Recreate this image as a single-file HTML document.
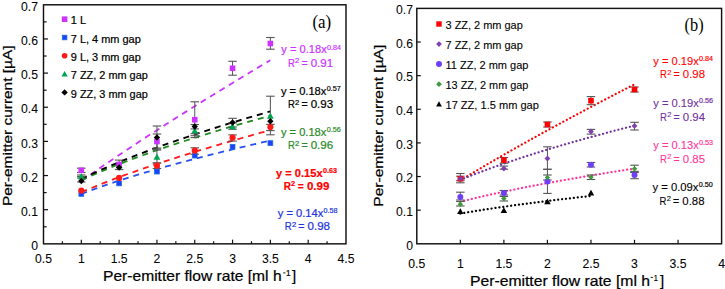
<!DOCTYPE html><html><head><meta charset="utf-8"><style>html,body{margin:0;padding:0;background:#fff;}svg{display:block}</style></head><body>
<svg width="725" height="289" viewBox="0 0 725 289">
<rect width="725" height="289" fill="#fff"/>
<rect x="43.5" y="4.8" width="302.50" height="239.05" fill="none" stroke="#111" stroke-width="1.45"/>
<line x1="43.5" y1="226.77" x2="46.6" y2="226.77" stroke="#111" stroke-width="1.2"/>
<line x1="43.5" y1="209.70" x2="48.0" y2="209.70" stroke="#111" stroke-width="1.2"/>
<line x1="43.5" y1="192.62" x2="46.6" y2="192.62" stroke="#111" stroke-width="1.2"/>
<line x1="43.5" y1="175.55" x2="48.0" y2="175.55" stroke="#111" stroke-width="1.2"/>
<line x1="43.5" y1="158.47" x2="46.6" y2="158.47" stroke="#111" stroke-width="1.2"/>
<line x1="43.5" y1="141.40" x2="48.0" y2="141.40" stroke="#111" stroke-width="1.2"/>
<line x1="43.5" y1="124.32" x2="46.6" y2="124.32" stroke="#111" stroke-width="1.2"/>
<line x1="43.5" y1="107.25" x2="48.0" y2="107.25" stroke="#111" stroke-width="1.2"/>
<line x1="43.5" y1="90.18" x2="46.6" y2="90.18" stroke="#111" stroke-width="1.2"/>
<line x1="43.5" y1="73.10" x2="48.0" y2="73.10" stroke="#111" stroke-width="1.2"/>
<line x1="43.5" y1="56.03" x2="46.6" y2="56.03" stroke="#111" stroke-width="1.2"/>
<line x1="43.5" y1="38.95" x2="48.0" y2="38.95" stroke="#111" stroke-width="1.2"/>
<line x1="43.5" y1="21.88" x2="46.6" y2="21.88" stroke="#111" stroke-width="1.2"/>
<line x1="62.41" y1="243.85" x2="62.41" y2="241.25" stroke="#111" stroke-width="1.2"/>
<line x1="81.31" y1="243.85" x2="81.31" y2="239.65" stroke="#111" stroke-width="1.2"/>
<line x1="100.22" y1="243.85" x2="100.22" y2="241.25" stroke="#111" stroke-width="1.2"/>
<line x1="119.12" y1="243.85" x2="119.12" y2="239.65" stroke="#111" stroke-width="1.2"/>
<line x1="138.03" y1="243.85" x2="138.03" y2="241.25" stroke="#111" stroke-width="1.2"/>
<line x1="156.94" y1="243.85" x2="156.94" y2="239.65" stroke="#111" stroke-width="1.2"/>
<line x1="175.84" y1="243.85" x2="175.84" y2="241.25" stroke="#111" stroke-width="1.2"/>
<line x1="194.75" y1="243.85" x2="194.75" y2="239.65" stroke="#111" stroke-width="1.2"/>
<line x1="213.66" y1="243.85" x2="213.66" y2="241.25" stroke="#111" stroke-width="1.2"/>
<line x1="232.56" y1="243.85" x2="232.56" y2="239.65" stroke="#111" stroke-width="1.2"/>
<line x1="251.47" y1="243.85" x2="251.47" y2="241.25" stroke="#111" stroke-width="1.2"/>
<line x1="270.38" y1="243.85" x2="270.38" y2="239.65" stroke="#111" stroke-width="1.2"/>
<line x1="289.28" y1="243.85" x2="289.28" y2="241.25" stroke="#111" stroke-width="1.2"/>
<line x1="308.19" y1="243.85" x2="308.19" y2="239.65" stroke="#111" stroke-width="1.2"/>
<line x1="327.09" y1="243.85" x2="327.09" y2="241.25" stroke="#111" stroke-width="1.2"/>
<text x="38.00" y="249.95" font-size="12.2" fill="#000" stroke="#000" stroke-width="0.05" text-anchor="end" font-weight="normal" font-family='"Liberation Sans", sans-serif'>0</text>
<text x="38.00" y="215.80" font-size="12.2" fill="#000" stroke="#000" stroke-width="0.05" text-anchor="end" font-weight="normal" font-family='"Liberation Sans", sans-serif'>0.1</text>
<text x="38.00" y="181.65" font-size="12.2" fill="#000" stroke="#000" stroke-width="0.05" text-anchor="end" font-weight="normal" font-family='"Liberation Sans", sans-serif'>0.2</text>
<text x="38.00" y="147.50" font-size="12.2" fill="#000" stroke="#000" stroke-width="0.05" text-anchor="end" font-weight="normal" font-family='"Liberation Sans", sans-serif'>0.3</text>
<text x="38.00" y="113.35" font-size="12.2" fill="#000" stroke="#000" stroke-width="0.05" text-anchor="end" font-weight="normal" font-family='"Liberation Sans", sans-serif'>0.4</text>
<text x="38.00" y="79.20" font-size="12.2" fill="#000" stroke="#000" stroke-width="0.05" text-anchor="end" font-weight="normal" font-family='"Liberation Sans", sans-serif'>0.5</text>
<text x="38.00" y="45.05" font-size="12.2" fill="#000" stroke="#000" stroke-width="0.05" text-anchor="end" font-weight="normal" font-family='"Liberation Sans", sans-serif'>0.6</text>
<text x="38.00" y="10.90" font-size="12.2" fill="#000" stroke="#000" stroke-width="0.05" text-anchor="end" font-weight="normal" font-family='"Liberation Sans", sans-serif'>0.7</text>
<text x="43.50" y="263.00" font-size="12.2" fill="#000" stroke="#000" stroke-width="0.05" text-anchor="middle" font-weight="normal" font-family='"Liberation Sans", sans-serif'>0.5</text>
<text x="81.31" y="263.00" font-size="12.2" fill="#000" stroke="#000" stroke-width="0.05" text-anchor="middle" font-weight="normal" font-family='"Liberation Sans", sans-serif'>1</text>
<text x="119.12" y="263.00" font-size="12.2" fill="#000" stroke="#000" stroke-width="0.05" text-anchor="middle" font-weight="normal" font-family='"Liberation Sans", sans-serif'>1.5</text>
<text x="156.94" y="263.00" font-size="12.2" fill="#000" stroke="#000" stroke-width="0.05" text-anchor="middle" font-weight="normal" font-family='"Liberation Sans", sans-serif'>2</text>
<text x="194.75" y="263.00" font-size="12.2" fill="#000" stroke="#000" stroke-width="0.05" text-anchor="middle" font-weight="normal" font-family='"Liberation Sans", sans-serif'>2.5</text>
<text x="232.56" y="263.00" font-size="12.2" fill="#000" stroke="#000" stroke-width="0.05" text-anchor="middle" font-weight="normal" font-family='"Liberation Sans", sans-serif'>3</text>
<text x="270.38" y="263.00" font-size="12.2" fill="#000" stroke="#000" stroke-width="0.05" text-anchor="middle" font-weight="normal" font-family='"Liberation Sans", sans-serif'>3.5</text>
<text x="308.19" y="263.00" font-size="12.2" fill="#000" stroke="#000" stroke-width="0.05" text-anchor="middle" font-weight="normal" font-family='"Liberation Sans", sans-serif'>4</text>
<text x="346.00" y="263.00" font-size="12.2" fill="#000" stroke="#000" stroke-width="0.05" text-anchor="middle" font-weight="normal" font-family='"Liberation Sans", sans-serif'>4.5</text>
<text transform="translate(12.1,125.8) rotate(-90)" x="0" y="0" font-size="13.2" text-anchor="middle" stroke="#000" stroke-width="0.22" font-family='"Liberation Sans", sans-serif' textLength="160.6" lengthAdjust="spacingAndGlyphs">Per-emitter current [µA]</text>
<text x="103.00" y="280.50" font-size="15" fill="#000" stroke="#000" stroke-width="0.22" text-anchor="start" font-weight="normal" font-family='"Liberation Sans", sans-serif' textLength="178.60" lengthAdjust="spacingAndGlyphs">Per-emitter flow rate [ml h</text>
<line x1="283.20" y1="272.90" x2="285.40" y2="272.90" stroke="#000" stroke-width="0.9"/>
<text x="286.00" y="275.80" font-size="8.2" fill="#000" stroke="#000" stroke-width="0.22" text-anchor="start" font-weight="normal" font-family='"Liberation Sans", sans-serif'>1</text>
<text x="292.00" y="280.50" font-size="15" fill="#000" stroke="#000" stroke-width="0.22" text-anchor="start" font-weight="normal" font-family='"Liberation Sans", sans-serif' textLength="4.20" lengthAdjust="spacingAndGlyphs">]</text>
<text x="312.40" y="28.00" font-size="19.5" fill="#000" stroke="#000" stroke-width="0" text-anchor="start" font-weight="normal" font-family='"Liberation Serif", serif' textLength="18.70" lengthAdjust="spacingAndGlyphs">(a)</text>
<polyline points="81.31,181.08 86.04,177.73 90.77,174.42 95.49,171.12 100.22,167.85 104.95,164.61 109.67,161.39 114.40,158.18 119.12,155.00 123.85,151.84 128.58,148.69 133.30,145.57 138.03,142.45 142.76,139.36 147.48,136.28 152.21,133.21 156.94,130.16 161.66,127.12 166.39,124.10 171.12,121.09 175.84,118.09 180.57,115.10 185.30,112.12 190.02,109.16 194.75,106.20 199.48,103.26 204.20,100.32 208.93,97.40 213.66,94.49 218.38,91.58 223.11,88.69 227.84,85.80 232.56,82.92 237.29,80.05 242.02,77.19 246.74,74.34 251.47,71.50 256.20,68.66 260.92,65.83 265.65,63.01 270.38,60.20" fill="none" stroke="#CC33FF" stroke-width="1.8" stroke-dasharray="6,5" stroke-linecap="butt"/>
<polyline points="81.31,193.89 86.04,192.10 90.77,190.36 95.49,188.65 100.22,186.99 104.95,185.35 109.67,183.75 114.40,182.18 119.12,180.64 123.85,179.13 128.58,177.64 133.30,176.17 138.03,174.73 142.76,173.31 147.48,171.91 152.21,170.53 156.94,169.17 161.66,167.82 166.39,166.49 171.12,165.18 175.84,163.88 180.57,162.60 185.30,161.34 190.02,160.08 194.75,158.85 199.48,157.62 204.20,156.41 208.93,155.20 213.66,154.01 218.38,152.84 223.11,151.67 227.84,150.51 232.56,149.36 237.29,148.23 242.02,147.10 246.74,145.98 251.47,144.87 256.20,143.78 260.92,142.68 265.65,141.60 270.38,140.53" fill="none" stroke="#2850F0" stroke-width="1.8" stroke-dasharray="6,5" stroke-linecap="butt"/>
<polyline points="81.31,192.22 86.04,190.20 90.77,188.24 95.49,186.31 100.22,184.42 104.95,182.57 109.67,180.74 114.40,178.95 119.12,177.19 123.85,175.45 128.58,173.74 133.30,172.05 138.03,170.39 142.76,168.75 147.48,167.13 152.21,165.52 156.94,163.94 161.66,162.38 166.39,160.83 171.12,159.30 175.84,157.79 180.57,156.29 185.30,154.80 190.02,153.34 194.75,151.88 199.48,150.44 204.20,149.01 208.93,147.59 213.66,146.19 218.38,144.80 223.11,143.42 227.84,142.05 232.56,140.69 237.29,139.34 242.02,138.00 246.74,136.67 251.47,135.35 256.20,134.04 260.92,132.74 265.65,131.45 270.38,130.16" fill="none" stroke="#FF1A1A" stroke-width="1.8" stroke-dasharray="6,5" stroke-linecap="butt"/>
<polyline points="81.31,180.33 86.04,178.14 90.77,176.00 95.49,173.91 100.22,171.88 104.95,169.88 109.67,167.93 114.40,166.02 119.12,164.14 123.85,162.30 128.58,160.49 133.30,158.70 138.03,156.95 142.76,155.23 147.48,153.53 152.21,151.86 156.94,150.21 161.66,148.58 166.39,146.97 171.12,145.39 175.84,143.82 180.57,142.27 185.30,140.75 190.02,139.24 194.75,137.74 199.48,136.26 204.20,134.80 208.93,133.36 213.66,131.92 218.38,130.51 223.11,129.10 227.84,127.71 232.56,126.34 237.29,124.97 242.02,123.62 246.74,122.28 251.47,120.95 256.20,119.63 260.92,118.32 265.65,117.03 270.38,115.74" fill="none" stroke="#1E8C1E" stroke-width="1.8" stroke-dasharray="6,5" stroke-linecap="butt"/>
<polyline points="81.31,178.96 86.04,176.68 90.77,174.46 95.49,172.29 100.22,170.16 104.95,168.09 109.67,166.05 114.40,164.05 119.12,162.09 123.85,160.17 128.58,158.28 133.30,156.42 138.03,154.59 142.76,152.78 147.48,151.01 152.21,149.25 156.94,147.53 161.66,145.82 166.39,144.14 171.12,142.48 175.84,140.84 180.57,139.22 185.30,137.61 190.02,136.03 194.75,134.46 199.48,132.91 204.20,131.38 208.93,129.86 213.66,128.35 218.38,126.87 223.11,125.39 227.84,123.93 232.56,122.48 237.29,121.05 242.02,119.63 246.74,118.21 251.47,116.82 256.20,115.43 260.92,114.05 265.65,112.69 270.38,111.34" fill="none" stroke="#000" stroke-width="1.9" stroke-dasharray="6,5" stroke-linecap="butt"/>
<line x1="81.31" y1="168.20" x2="81.31" y2="172.50" stroke="#555" stroke-width="1"/>
<line x1="77.06" y1="168.20" x2="85.56" y2="168.20" stroke="#555" stroke-width="1.1"/>
<line x1="77.06" y1="172.50" x2="85.56" y2="172.50" stroke="#555" stroke-width="1.1"/>
<line x1="81.31" y1="175.00" x2="81.31" y2="178.00" stroke="#555" stroke-width="1"/>
<line x1="77.06" y1="175.00" x2="85.56" y2="175.00" stroke="#555" stroke-width="1.1"/>
<line x1="77.06" y1="178.00" x2="85.56" y2="178.00" stroke="#555" stroke-width="1.1"/>
<line x1="81.31" y1="176.50" x2="81.31" y2="182.00" stroke="#555" stroke-width="1"/>
<line x1="77.06" y1="176.50" x2="85.56" y2="176.50" stroke="#555" stroke-width="1.1"/>
<line x1="77.06" y1="182.00" x2="85.56" y2="182.00" stroke="#555" stroke-width="1.1"/>
<line x1="119.12" y1="160.10" x2="119.12" y2="169.60" stroke="#555" stroke-width="1"/>
<line x1="114.88" y1="160.10" x2="123.38" y2="160.10" stroke="#555" stroke-width="1.1"/>
<line x1="114.88" y1="169.60" x2="123.38" y2="169.60" stroke="#555" stroke-width="1.1"/>
<line x1="156.94" y1="134.00" x2="156.94" y2="149.00" stroke="#555" stroke-width="1"/>
<line x1="152.69" y1="134.00" x2="161.19" y2="134.00" stroke="#555" stroke-width="1.1"/>
<line x1="152.69" y1="149.00" x2="161.19" y2="149.00" stroke="#555" stroke-width="1.1"/>
<line x1="156.94" y1="163.00" x2="156.94" y2="168.50" stroke="#555" stroke-width="1"/>
<line x1="152.69" y1="163.00" x2="161.19" y2="163.00" stroke="#555" stroke-width="1.1"/>
<line x1="152.69" y1="168.50" x2="161.19" y2="168.50" stroke="#555" stroke-width="1.1"/>
<line x1="156.94" y1="150.00" x2="156.94" y2="163.00" stroke="#555" stroke-width="1"/>
<line x1="152.69" y1="150.00" x2="161.19" y2="150.00" stroke="#555" stroke-width="1.1"/>
<line x1="152.69" y1="163.00" x2="161.19" y2="163.00" stroke="#555" stroke-width="1.1"/>
<line x1="156.94" y1="126.00" x2="156.94" y2="148.00" stroke="#555" stroke-width="1"/>
<line x1="152.69" y1="126.00" x2="161.19" y2="126.00" stroke="#555" stroke-width="1.1"/>
<line x1="152.69" y1="148.00" x2="161.19" y2="148.00" stroke="#555" stroke-width="1.1"/>
<line x1="194.75" y1="101.80" x2="194.75" y2="137.60" stroke="#555" stroke-width="1"/>
<line x1="190.50" y1="101.80" x2="199.00" y2="101.80" stroke="#555" stroke-width="1.1"/>
<line x1="190.50" y1="137.60" x2="199.00" y2="137.60" stroke="#555" stroke-width="1.1"/>
<line x1="194.75" y1="147.80" x2="194.75" y2="154.30" stroke="#555" stroke-width="1"/>
<line x1="190.50" y1="147.80" x2="199.00" y2="147.80" stroke="#555" stroke-width="1.1"/>
<line x1="190.50" y1="154.30" x2="199.00" y2="154.30" stroke="#555" stroke-width="1.1"/>
<line x1="194.75" y1="128.90" x2="194.75" y2="135.70" stroke="#555" stroke-width="1"/>
<line x1="190.50" y1="128.90" x2="199.00" y2="128.90" stroke="#555" stroke-width="1.1"/>
<line x1="190.50" y1="135.70" x2="199.00" y2="135.70" stroke="#555" stroke-width="1.1"/>
<line x1="194.75" y1="124.50" x2="194.75" y2="133.70" stroke="#555" stroke-width="1"/>
<line x1="190.50" y1="124.50" x2="199.00" y2="124.50" stroke="#555" stroke-width="1.1"/>
<line x1="190.50" y1="133.70" x2="199.00" y2="133.70" stroke="#555" stroke-width="1.1"/>
<line x1="232.56" y1="61.30" x2="232.56" y2="75.20" stroke="#555" stroke-width="1"/>
<line x1="228.31" y1="61.30" x2="236.81" y2="61.30" stroke="#555" stroke-width="1.1"/>
<line x1="228.31" y1="75.20" x2="236.81" y2="75.20" stroke="#555" stroke-width="1.1"/>
<line x1="232.56" y1="134.90" x2="232.56" y2="141.10" stroke="#555" stroke-width="1"/>
<line x1="228.31" y1="134.90" x2="236.81" y2="134.90" stroke="#555" stroke-width="1.1"/>
<line x1="228.31" y1="141.10" x2="236.81" y2="141.10" stroke="#555" stroke-width="1.1"/>
<line x1="232.56" y1="123.00" x2="232.56" y2="129.30" stroke="#555" stroke-width="1"/>
<line x1="228.31" y1="123.00" x2="236.81" y2="123.00" stroke="#555" stroke-width="1.1"/>
<line x1="228.31" y1="129.30" x2="236.81" y2="129.30" stroke="#555" stroke-width="1.1"/>
<line x1="232.56" y1="118.30" x2="232.56" y2="127.00" stroke="#555" stroke-width="1"/>
<line x1="228.31" y1="118.30" x2="236.81" y2="118.30" stroke="#555" stroke-width="1.1"/>
<line x1="228.31" y1="127.00" x2="236.81" y2="127.00" stroke="#555" stroke-width="1.1"/>
<line x1="270.38" y1="37.50" x2="270.38" y2="49.20" stroke="#555" stroke-width="1"/>
<line x1="266.12" y1="37.50" x2="274.62" y2="37.50" stroke="#555" stroke-width="1.1"/>
<line x1="266.12" y1="49.20" x2="274.62" y2="49.20" stroke="#555" stroke-width="1.1"/>
<line x1="270.38" y1="124.40" x2="270.38" y2="130.60" stroke="#555" stroke-width="1"/>
<line x1="266.12" y1="124.40" x2="274.62" y2="124.40" stroke="#555" stroke-width="1.1"/>
<line x1="266.12" y1="130.60" x2="274.62" y2="130.60" stroke="#555" stroke-width="1.1"/>
<line x1="270.38" y1="96.20" x2="270.38" y2="134.80" stroke="#555" stroke-width="1"/>
<line x1="266.12" y1="96.20" x2="274.62" y2="96.20" stroke="#555" stroke-width="1.1"/>
<line x1="266.12" y1="134.80" x2="274.62" y2="134.80" stroke="#555" stroke-width="1.1"/>
<rect x="78.91" y="191.50" width="4.8" height="4.8" fill="#1F3FFF" stroke="#1F6FDF" stroke-width="0.8"/>
<circle cx="81.31" cy="190.60" r="3.1" fill="#FF1A1A"/>
<polygon points="81.31,173.07 84.71,179.25 77.91,179.25" fill="#00A651"/>
<rect x="78.51" y="167.50" width="5.6" height="5.6" fill="#CC33FF"/>
<polygon points="81.31,177.80 84.51,181.00 81.31,184.20 78.11,181.00" fill="#000"/>
<rect x="116.72" y="181.00" width="4.8" height="4.8" fill="#1F3FFF" stroke="#1F6FDF" stroke-width="0.8"/>
<circle cx="119.12" cy="177.90" r="3.1" fill="#FF1A1A"/>
<polygon points="119.12,161.97 122.52,168.15 115.73,168.15" fill="#00A651"/>
<rect x="116.33" y="161.70" width="5.6" height="5.6" fill="#CC33FF"/>
<polygon points="119.12,164.30 122.33,167.50 119.12,170.70 115.92,167.50" fill="#000"/>
<rect x="154.54" y="169.20" width="4.8" height="4.8" fill="#1F3FFF" stroke="#1F6FDF" stroke-width="0.8"/>
<circle cx="156.94" cy="165.70" r="3.1" fill="#FF1A1A"/>
<polygon points="156.94,153.47 160.34,159.65 153.54,159.65" fill="#00A651"/>
<rect x="154.14" y="138.70" width="5.6" height="5.6" fill="#CC33FF"/>
<polygon points="156.94,134.20 160.14,137.40 156.94,140.60 153.74,137.40" fill="#000"/>
<rect x="192.35" y="153.20" width="4.8" height="4.8" fill="#1F3FFF" stroke="#1F6FDF" stroke-width="0.8"/>
<circle cx="194.75" cy="150.70" r="3.1" fill="#FF1A1A"/>
<polygon points="194.75,127.37 198.15,133.55 191.35,133.55" fill="#00A651"/>
<rect x="191.95" y="116.90" width="5.6" height="5.6" fill="#CC33FF"/>
<polygon points="194.75,123.30 197.95,126.50 194.75,129.70 191.55,126.50" fill="#000"/>
<rect x="230.16" y="144.40" width="4.8" height="4.8" fill="#1F3FFF" stroke="#1F6FDF" stroke-width="0.8"/>
<circle cx="232.56" cy="137.70" r="3.1" fill="#FF1A1A"/>
<polygon points="232.56,122.97 235.96,129.15 229.16,129.15" fill="#00A651"/>
<rect x="229.76" y="65.50" width="5.6" height="5.6" fill="#CC33FF"/>
<polygon points="232.56,119.30 235.76,122.50 232.56,125.70 229.36,122.50" fill="#000"/>
<rect x="267.98" y="140.70" width="4.8" height="4.8" fill="#1F3FFF" stroke="#1F6FDF" stroke-width="0.8"/>
<circle cx="270.38" cy="127.00" r="3.1" fill="#FF1A1A"/>
<polygon points="270.38,112.47 273.78,118.65 266.97,118.65" fill="#00A651"/>
<rect x="267.57" y="40.70" width="5.6" height="5.6" fill="#CC33FF"/>
<polygon points="270.38,118.10 273.57,121.30 270.38,124.50 267.18,121.30" fill="#000"/>
<rect x="61.80" y="16.40" width="5.6" height="5.6" fill="#CC33FF"/>
<text x="70.80" y="24.40" font-size="11" fill="#000" stroke="#000" stroke-width="0.22" text-anchor="start" font-weight="normal" font-family='"Liberation Sans", sans-serif'>1 L</text>
<rect x="62.30" y="35.20" width="4.6" height="4.6" fill="#1F3FFF" stroke="#1F6FDF" stroke-width="0.8"/>
<text x="70.80" y="42.70" font-size="11" fill="#000" stroke="#000" stroke-width="0.22" text-anchor="start" font-weight="normal" font-family='"Liberation Sans", sans-serif' textLength="70.00" lengthAdjust="spacingAndGlyphs">7 L, 4 mm gap</text>
<circle cx="64.60" cy="55.80" r="2.8" fill="#FF1A1A"/>
<text x="70.80" y="61.00" font-size="11" fill="#000" stroke="#000" stroke-width="0.22" text-anchor="start" font-weight="normal" font-family='"Liberation Sans", sans-serif' textLength="70.00" lengthAdjust="spacingAndGlyphs">9 L, 3 mm gap</text>
<polygon points="64.60,70.91 67.70,76.49 61.50,76.49" fill="#00A651"/>
<text x="70.80" y="79.30" font-size="11" fill="#000" stroke="#000" stroke-width="0.22" text-anchor="start" font-weight="normal" font-family='"Liberation Sans", sans-serif' textLength="77.00" lengthAdjust="spacingAndGlyphs">7 ZZ, 2 mm gap</text>
<polygon points="64.60,89.20 67.80,92.40 64.60,95.60 61.40,92.40" fill="#000"/>
<text x="70.80" y="97.60" font-size="11" fill="#000" stroke="#000" stroke-width="0.22" text-anchor="start" font-weight="normal" font-family='"Liberation Sans", sans-serif' textLength="77.00" lengthAdjust="spacingAndGlyphs">9 ZZ, 3 mm gap</text>
<text x="281.30" y="53.40" font-size="11" fill="#CC33FF" stroke="#CC33FF" stroke-width="0.22" text-anchor="start" font-weight="normal" font-family='"Liberation Sans", sans-serif' textLength="45.50" lengthAdjust="spacingAndGlyphs">y = 0.18x</text>
<text x="327.10" y="49.50" font-size="7.2" fill="#CC33FF" stroke="#CC33FF" stroke-width="0.2" font-weight="normal" font-family='"Liberation Sans", sans-serif'>0.84</text>
<text x="287.90" y="67.00" font-size="11" fill="#CC33FF" stroke="#CC33FF" stroke-width="0.22" text-anchor="start" font-weight="normal" font-family='"Liberation Sans", sans-serif' textLength="6.90" lengthAdjust="spacingAndGlyphs">R</text>
<text x="295.10" y="63.40" font-size="7.6" fill="#CC33FF" stroke="#CC33FF" stroke-width="0.22" text-anchor="start" font-weight="normal" font-family='"Liberation Sans", sans-serif'>2</text>
<text x="301.50" y="67.00" font-size="11" fill="#CC33FF" stroke="#CC33FF" stroke-width="0.22" text-anchor="start" font-weight="normal" font-family='"Liberation Sans", sans-serif' textLength="6.20" lengthAdjust="spacingAndGlyphs">=</text>
<text x="310.70" y="67.00" font-size="11" fill="#CC33FF" stroke="#CC33FF" stroke-width="0.22" text-anchor="start" font-weight="normal" font-family='"Liberation Sans", sans-serif' textLength="22.50" lengthAdjust="spacingAndGlyphs">0.91</text>
<text x="280.90" y="94.80" font-size="11" fill="#000" stroke="#000" stroke-width="0.22" text-anchor="start" font-weight="normal" font-family='"Liberation Sans", sans-serif' textLength="45.50" lengthAdjust="spacingAndGlyphs">y = 0.18x</text>
<text x="326.70" y="90.90" font-size="7.2" fill="#000" stroke="#000" stroke-width="0.2" font-weight="normal" font-family='"Liberation Sans", sans-serif'>0.57</text>
<text x="287.90" y="108.40" font-size="11" fill="#000" stroke="#000" stroke-width="0.22" text-anchor="start" font-weight="normal" font-family='"Liberation Sans", sans-serif' textLength="6.90" lengthAdjust="spacingAndGlyphs">R</text>
<text x="295.10" y="104.80" font-size="7.6" fill="#000" stroke="#000" stroke-width="0.22" text-anchor="start" font-weight="normal" font-family='"Liberation Sans", sans-serif'>2</text>
<text x="301.50" y="108.40" font-size="11" fill="#000" stroke="#000" stroke-width="0.22" text-anchor="start" font-weight="normal" font-family='"Liberation Sans", sans-serif' textLength="6.20" lengthAdjust="spacingAndGlyphs">=</text>
<text x="310.70" y="108.40" font-size="11" fill="#000" stroke="#000" stroke-width="0.22" text-anchor="start" font-weight="normal" font-family='"Liberation Sans", sans-serif' textLength="22.50" lengthAdjust="spacingAndGlyphs">0.93</text>
<text x="280.90" y="135.80" font-size="11" fill="#2A8A2A" stroke="#2A8A2A" stroke-width="0.22" text-anchor="start" font-weight="normal" font-family='"Liberation Sans", sans-serif' textLength="45.50" lengthAdjust="spacingAndGlyphs">y = 0.18x</text>
<text x="326.70" y="131.90" font-size="7.2" fill="#2A8A2A" stroke="#2A8A2A" stroke-width="0.2" font-weight="normal" font-family='"Liberation Sans", sans-serif'>0.56</text>
<text x="287.90" y="149.40" font-size="11" fill="#2A8A2A" stroke="#2A8A2A" stroke-width="0.22" text-anchor="start" font-weight="normal" font-family='"Liberation Sans", sans-serif' textLength="6.90" lengthAdjust="spacingAndGlyphs">R</text>
<text x="295.10" y="145.80" font-size="7.6" fill="#2A8A2A" stroke="#2A8A2A" stroke-width="0.22" text-anchor="start" font-weight="normal" font-family='"Liberation Sans", sans-serif'>2</text>
<text x="301.50" y="149.40" font-size="11" fill="#2A8A2A" stroke="#2A8A2A" stroke-width="0.22" text-anchor="start" font-weight="normal" font-family='"Liberation Sans", sans-serif' textLength="6.20" lengthAdjust="spacingAndGlyphs">=</text>
<text x="310.70" y="149.40" font-size="11" fill="#2A8A2A" stroke="#2A8A2A" stroke-width="0.22" text-anchor="start" font-weight="normal" font-family='"Liberation Sans", sans-serif' textLength="22.50" lengthAdjust="spacingAndGlyphs">0.96</text>
<text x="276.10" y="176.60" font-size="11" fill="#FF0000" stroke="#FF0000" stroke-width="0.22" text-anchor="start" font-weight="bold" font-family='"Liberation Sans", sans-serif' textLength="46.50" lengthAdjust="spacingAndGlyphs">y = 0.15x</text>
<text x="322.90" y="172.70" font-size="7.2" fill="#FF0000" stroke="#FF0000" stroke-width="0.2" font-weight="bold" font-family='"Liberation Sans", sans-serif'>0.63</text>
<text x="283.70" y="190.20" font-size="11" fill="#FF0000" stroke="#FF0000" stroke-width="0.22" text-anchor="start" font-weight="bold" font-family='"Liberation Sans", sans-serif' textLength="7.20" lengthAdjust="spacingAndGlyphs">R</text>
<text x="290.90" y="186.40" font-size="7.6" fill="#FF0000" stroke="#FF0000" stroke-width="0.22" text-anchor="start" font-weight="bold" font-family='"Liberation Sans", sans-serif'>2</text>
<text x="297.80" y="190.20" font-size="11" fill="#FF0000" stroke="#FF0000" stroke-width="0.22" text-anchor="start" font-weight="bold" font-family='"Liberation Sans", sans-serif' textLength="6.00" lengthAdjust="spacingAndGlyphs">=</text>
<text x="306.90" y="190.20" font-size="11" fill="#FF0000" stroke="#FF0000" stroke-width="0.22" text-anchor="start" font-weight="bold" font-family='"Liberation Sans", sans-serif' textLength="22.60" lengthAdjust="spacingAndGlyphs">0.99</text>
<text x="277.80" y="216.70" font-size="11" fill="#2233DD" stroke="#2233DD" stroke-width="0.22" text-anchor="start" font-weight="normal" font-family='"Liberation Sans", sans-serif' textLength="45.50" lengthAdjust="spacingAndGlyphs">y = 0.14x</text>
<text x="323.60" y="212.80" font-size="7.2" fill="#2233DD" stroke="#2233DD" stroke-width="0.2" font-weight="normal" font-family='"Liberation Sans", sans-serif'>0.58</text>
<text x="284.70" y="230.30" font-size="11" fill="#2233DD" stroke="#2233DD" stroke-width="0.22" text-anchor="start" font-weight="normal" font-family='"Liberation Sans", sans-serif' textLength="6.90" lengthAdjust="spacingAndGlyphs">R</text>
<text x="291.90" y="226.70" font-size="7.6" fill="#2233DD" stroke="#2233DD" stroke-width="0.22" text-anchor="start" font-weight="normal" font-family='"Liberation Sans", sans-serif'>2</text>
<text x="298.30" y="230.30" font-size="11" fill="#2233DD" stroke="#2233DD" stroke-width="0.22" text-anchor="start" font-weight="normal" font-family='"Liberation Sans", sans-serif' textLength="6.20" lengthAdjust="spacingAndGlyphs">=</text>
<text x="307.50" y="230.30" font-size="11" fill="#2233DD" stroke="#2233DD" stroke-width="0.22" text-anchor="start" font-weight="normal" font-family='"Liberation Sans", sans-serif' textLength="22.50" lengthAdjust="spacingAndGlyphs">0.98</text>
<rect x="416.8" y="8.4" width="304.80" height="235.40" fill="none" stroke="#111" stroke-width="1.45"/>
<line x1="416.8" y1="210.17" x2="420.8" y2="210.17" stroke="#111" stroke-width="1.2"/>
<line x1="416.8" y1="176.54" x2="420.8" y2="176.54" stroke="#111" stroke-width="1.2"/>
<line x1="416.8" y1="142.91" x2="420.8" y2="142.91" stroke="#111" stroke-width="1.2"/>
<line x1="416.8" y1="109.29" x2="420.8" y2="109.29" stroke="#111" stroke-width="1.2"/>
<line x1="416.8" y1="75.66" x2="420.8" y2="75.66" stroke="#111" stroke-width="1.2"/>
<line x1="416.8" y1="42.03" x2="420.8" y2="42.03" stroke="#111" stroke-width="1.2"/>
<line x1="460.34" y1="243.8" x2="460.34" y2="239.8" stroke="#111" stroke-width="1.2"/>
<line x1="503.89" y1="243.8" x2="503.89" y2="239.8" stroke="#111" stroke-width="1.2"/>
<line x1="547.43" y1="243.8" x2="547.43" y2="239.8" stroke="#111" stroke-width="1.2"/>
<line x1="590.97" y1="243.8" x2="590.97" y2="239.8" stroke="#111" stroke-width="1.2"/>
<line x1="634.51" y1="243.8" x2="634.51" y2="239.8" stroke="#111" stroke-width="1.2"/>
<line x1="678.06" y1="243.8" x2="678.06" y2="239.8" stroke="#111" stroke-width="1.2"/>
<text x="413.00" y="249.60" font-size="12.2" fill="#000" stroke="#000" stroke-width="0.03" text-anchor="end" font-weight="normal" font-family='"Liberation Sans", sans-serif'>0</text>
<text x="413.00" y="215.97" font-size="12.2" fill="#000" stroke="#000" stroke-width="0.03" text-anchor="end" font-weight="normal" font-family='"Liberation Sans", sans-serif'>0.1</text>
<text x="413.00" y="182.34" font-size="12.2" fill="#000" stroke="#000" stroke-width="0.03" text-anchor="end" font-weight="normal" font-family='"Liberation Sans", sans-serif'>0.2</text>
<text x="413.00" y="148.71" font-size="12.2" fill="#000" stroke="#000" stroke-width="0.03" text-anchor="end" font-weight="normal" font-family='"Liberation Sans", sans-serif'>0.3</text>
<text x="413.00" y="115.09" font-size="12.2" fill="#000" stroke="#000" stroke-width="0.03" text-anchor="end" font-weight="normal" font-family='"Liberation Sans", sans-serif'>0.4</text>
<text x="413.00" y="81.46" font-size="12.2" fill="#000" stroke="#000" stroke-width="0.03" text-anchor="end" font-weight="normal" font-family='"Liberation Sans", sans-serif'>0.5</text>
<text x="413.00" y="47.83" font-size="12.2" fill="#000" stroke="#000" stroke-width="0.03" text-anchor="end" font-weight="normal" font-family='"Liberation Sans", sans-serif'>0.6</text>
<text x="413.00" y="14.20" font-size="12.2" fill="#000" stroke="#000" stroke-width="0.03" text-anchor="end" font-weight="normal" font-family='"Liberation Sans", sans-serif'>0.7</text>
<text x="416.80" y="267.60" font-size="12.2" fill="#000" stroke="#000" stroke-width="0.08" text-anchor="middle" font-weight="normal" font-family='"Liberation Sans", sans-serif'>0.5</text>
<text x="460.34" y="267.60" font-size="12.2" fill="#000" stroke="#000" stroke-width="0.08" text-anchor="middle" font-weight="normal" font-family='"Liberation Sans", sans-serif'>1</text>
<text x="503.89" y="267.60" font-size="12.2" fill="#000" stroke="#000" stroke-width="0.08" text-anchor="middle" font-weight="normal" font-family='"Liberation Sans", sans-serif'>1.5</text>
<text x="547.43" y="267.60" font-size="12.2" fill="#000" stroke="#000" stroke-width="0.08" text-anchor="middle" font-weight="normal" font-family='"Liberation Sans", sans-serif'>2</text>
<text x="590.97" y="267.60" font-size="12.2" fill="#000" stroke="#000" stroke-width="0.08" text-anchor="middle" font-weight="normal" font-family='"Liberation Sans", sans-serif'>2.5</text>
<text x="634.51" y="267.60" font-size="12.2" fill="#000" stroke="#000" stroke-width="0.08" text-anchor="middle" font-weight="normal" font-family='"Liberation Sans", sans-serif'>3</text>
<text x="678.06" y="267.60" font-size="12.2" fill="#000" stroke="#000" stroke-width="0.08" text-anchor="middle" font-weight="normal" font-family='"Liberation Sans", sans-serif'>3.5</text>
<text x="721.60" y="267.60" font-size="12.2" fill="#000" stroke="#000" stroke-width="0.08" text-anchor="middle" font-weight="normal" font-family='"Liberation Sans", sans-serif'>4</text>
<text transform="translate(383.1,125.7) rotate(-90)" x="0" y="0" font-size="13.2" text-anchor="middle" stroke="#000" stroke-width="0.22" font-family='"Liberation Sans", sans-serif' textLength="162.0" lengthAdjust="spacingAndGlyphs">Per-emitter current [µA]</text>
<text x="469.90" y="285.70" font-size="15" fill="#000" stroke="#000" stroke-width="0.22" text-anchor="start" font-weight="normal" font-family='"Liberation Sans", sans-serif' textLength="180.20" lengthAdjust="spacingAndGlyphs">Per-emitter flow rate [ml h</text>
<line x1="650.70" y1="277.40" x2="652.90" y2="277.40" stroke="#000" stroke-width="0.9"/>
<text x="653.60" y="280.80" font-size="8.2" fill="#000" stroke="#000" stroke-width="0.1" text-anchor="start" font-weight="normal" font-family='"Liberation Sans", sans-serif'>1</text>
<text x="659.90" y="285.70" font-size="15" fill="#000" stroke="#000" stroke-width="0.22" text-anchor="start" font-weight="normal" font-family='"Liberation Sans", sans-serif' textLength="4.20" lengthAdjust="spacingAndGlyphs">]</text>
<text x="684.60" y="30.60" font-size="19.5" fill="#000" stroke="#000" stroke-width="0" text-anchor="start" font-weight="normal" font-family='"Liberation Serif", serif' textLength="19.00" lengthAdjust="spacingAndGlyphs">(b)</text>
<polyline points="460.34,180.41 464.70,177.76 469.05,175.13 473.41,172.51 477.76,169.92 482.11,167.34 486.47,164.78 490.82,162.24 495.18,159.71 499.53,157.19 503.89,154.69 508.24,152.20 512.59,149.72 516.95,147.26 521.30,144.81 525.66,142.37 530.01,139.94 534.37,137.52 538.72,135.11 543.07,132.72 547.43,130.33 551.78,127.95 556.14,125.58 560.49,123.22 564.85,120.87 569.20,118.53 573.55,116.19 577.91,113.87 582.26,111.55 586.62,109.24 590.97,106.94 595.33,104.64 599.68,102.35 604.03,100.07 608.39,97.80 612.74,95.53 617.10,93.27 621.45,91.01 625.81,88.76 630.16,86.52 634.51,84.28" fill="none" stroke="#FF0000" stroke-width="2.2" stroke-dasharray="0.1,3.85" stroke-linecap="round"/>
<polyline points="460.34,179.91 464.70,178.14 469.05,176.40 473.41,174.70 477.76,173.04 482.11,171.40 486.47,169.79 490.82,168.21 495.18,166.66 499.53,165.13 503.89,163.62 508.24,162.13 512.59,160.67 516.95,159.22 521.30,157.80 525.66,156.39 530.01,155.00 534.37,153.63 538.72,152.27 543.07,150.93 547.43,149.60 551.78,148.29 556.14,146.99 560.49,145.71 564.85,144.44 569.20,143.18 573.55,141.93 577.91,140.70 582.26,139.48 586.62,138.27 590.97,137.06 595.33,135.87 599.68,134.69 604.03,133.52 608.39,132.36 612.74,131.21 617.10,130.07 621.45,128.94 625.81,127.81 630.16,126.70 634.51,125.59" fill="none" stroke="#7030A0" stroke-width="2.2" stroke-dasharray="0.1,3.85" stroke-linecap="round"/>
<polyline points="460.34,201.76 464.70,200.66 469.05,199.59 473.41,198.53 477.76,197.50 482.11,196.49 486.47,195.49 490.82,194.52 495.18,193.56 499.53,192.61 503.89,191.69 508.24,190.77 512.59,189.87 516.95,188.99 521.30,188.11 525.66,187.25 530.01,186.40 534.37,185.56 538.72,184.73 543.07,183.91 547.43,183.10 551.78,182.30 556.14,181.51 560.49,180.73 564.85,179.96 569.20,179.19 573.55,178.44 577.91,177.69 582.26,176.95 586.62,176.21 590.97,175.48 595.33,174.76 599.68,174.05 604.03,173.34 608.39,172.64 612.74,171.94 617.10,171.25 621.45,170.57 625.81,169.89 630.16,169.22 634.51,168.55" fill="none" stroke="#FF3399" stroke-width="2.2" stroke-dasharray="0.1,3.85" stroke-linecap="round"/>
<polyline points="460.34,213.53 463.61,212.97 466.87,212.42 470.14,211.88 473.41,211.34 476.67,210.82 479.94,210.30 483.20,209.79 486.47,209.29 489.73,208.80 493.00,208.31 496.27,207.83 499.53,207.36 502.80,206.89 506.06,206.42 509.33,205.97 512.59,205.52 515.86,205.07 519.13,204.63 522.39,204.19 525.66,203.76 528.92,203.34 532.19,202.91 535.45,202.50 538.72,202.08 541.99,201.67 545.25,201.27 548.52,200.86 551.78,200.47 555.05,200.07 558.31,199.68 561.58,199.29 564.85,198.91 568.11,198.53 571.38,198.15 574.64,197.78 577.91,197.40 581.17,197.03 584.44,196.67 587.71,196.31 590.97,195.95" fill="none" stroke="#000" stroke-width="2.2" stroke-dasharray="0.1,3.85" stroke-linecap="round"/>
<line x1="460.34" y1="173.50" x2="460.34" y2="182.80" stroke="#555" stroke-width="1"/>
<line x1="456.09" y1="173.50" x2="464.59" y2="173.50" stroke="#555" stroke-width="1.1"/>
<line x1="456.09" y1="182.80" x2="464.59" y2="182.80" stroke="#555" stroke-width="1.1"/>
<line x1="460.34" y1="176.20" x2="460.34" y2="180.70" stroke="#555" stroke-width="1"/>
<line x1="456.09" y1="176.20" x2="464.59" y2="176.20" stroke="#555" stroke-width="1.1"/>
<line x1="456.09" y1="180.70" x2="464.59" y2="180.70" stroke="#555" stroke-width="1.1"/>
<line x1="460.34" y1="192.20" x2="460.34" y2="200.00" stroke="#555" stroke-width="1"/>
<line x1="456.09" y1="192.20" x2="464.59" y2="192.20" stroke="#555" stroke-width="1.1"/>
<line x1="456.09" y1="200.00" x2="464.59" y2="200.00" stroke="#555" stroke-width="1.1"/>
<line x1="460.34" y1="201.50" x2="460.34" y2="206.00" stroke="#555" stroke-width="1"/>
<line x1="456.09" y1="201.50" x2="464.59" y2="201.50" stroke="#555" stroke-width="1.1"/>
<line x1="456.09" y1="206.00" x2="464.59" y2="206.00" stroke="#555" stroke-width="1.1"/>
<line x1="503.89" y1="157.50" x2="503.89" y2="163.20" stroke="#555" stroke-width="1"/>
<line x1="499.64" y1="157.50" x2="508.14" y2="157.50" stroke="#555" stroke-width="1.1"/>
<line x1="499.64" y1="163.20" x2="508.14" y2="163.20" stroke="#555" stroke-width="1.1"/>
<line x1="503.89" y1="166.10" x2="503.89" y2="169.20" stroke="#555" stroke-width="1"/>
<line x1="499.64" y1="166.10" x2="508.14" y2="166.10" stroke="#555" stroke-width="1.1"/>
<line x1="499.64" y1="169.20" x2="508.14" y2="169.20" stroke="#555" stroke-width="1.1"/>
<line x1="503.89" y1="190.50" x2="503.89" y2="195.00" stroke="#555" stroke-width="1"/>
<line x1="499.64" y1="190.50" x2="508.14" y2="190.50" stroke="#555" stroke-width="1.1"/>
<line x1="499.64" y1="195.00" x2="508.14" y2="195.00" stroke="#555" stroke-width="1.1"/>
<line x1="503.89" y1="196.50" x2="503.89" y2="201.00" stroke="#555" stroke-width="1"/>
<line x1="499.64" y1="196.50" x2="508.14" y2="196.50" stroke="#555" stroke-width="1.1"/>
<line x1="499.64" y1="201.00" x2="508.14" y2="201.00" stroke="#555" stroke-width="1.1"/>
<line x1="547.43" y1="122.00" x2="547.43" y2="127.00" stroke="#555" stroke-width="1"/>
<line x1="543.18" y1="122.00" x2="551.68" y2="122.00" stroke="#555" stroke-width="1.1"/>
<line x1="543.18" y1="127.00" x2="551.68" y2="127.00" stroke="#555" stroke-width="1.1"/>
<line x1="547.43" y1="146.80" x2="547.43" y2="169.30" stroke="#555" stroke-width="1"/>
<line x1="543.18" y1="146.80" x2="551.68" y2="146.80" stroke="#555" stroke-width="1.1"/>
<line x1="543.18" y1="169.30" x2="551.68" y2="169.30" stroke="#555" stroke-width="1.1"/>
<line x1="547.43" y1="169.30" x2="547.43" y2="193.40" stroke="#555" stroke-width="1"/>
<line x1="543.18" y1="169.30" x2="551.68" y2="169.30" stroke="#555" stroke-width="1.1"/>
<line x1="543.18" y1="193.40" x2="551.68" y2="193.40" stroke="#555" stroke-width="1.1"/>
<line x1="547.43" y1="175.00" x2="547.43" y2="180.00" stroke="#555" stroke-width="1"/>
<line x1="543.18" y1="175.00" x2="551.68" y2="175.00" stroke="#555" stroke-width="1.1"/>
<line x1="543.18" y1="180.00" x2="551.68" y2="180.00" stroke="#555" stroke-width="1.1"/>
<line x1="590.97" y1="96.60" x2="590.97" y2="104.70" stroke="#555" stroke-width="1"/>
<line x1="586.72" y1="96.60" x2="595.22" y2="96.60" stroke="#555" stroke-width="1.1"/>
<line x1="586.72" y1="104.70" x2="595.22" y2="104.70" stroke="#555" stroke-width="1.1"/>
<line x1="590.97" y1="129.40" x2="590.97" y2="134.10" stroke="#555" stroke-width="1"/>
<line x1="586.72" y1="129.40" x2="595.22" y2="129.40" stroke="#555" stroke-width="1.1"/>
<line x1="586.72" y1="134.10" x2="595.22" y2="134.10" stroke="#555" stroke-width="1.1"/>
<line x1="590.97" y1="162.50" x2="590.97" y2="167.00" stroke="#555" stroke-width="1"/>
<line x1="586.72" y1="162.50" x2="595.22" y2="162.50" stroke="#555" stroke-width="1.1"/>
<line x1="586.72" y1="167.00" x2="595.22" y2="167.00" stroke="#555" stroke-width="1.1"/>
<line x1="590.97" y1="175.00" x2="590.97" y2="179.50" stroke="#555" stroke-width="1"/>
<line x1="586.72" y1="175.00" x2="595.22" y2="175.00" stroke="#555" stroke-width="1.1"/>
<line x1="586.72" y1="179.50" x2="595.22" y2="179.50" stroke="#555" stroke-width="1.1"/>
<line x1="634.51" y1="87.00" x2="634.51" y2="92.00" stroke="#555" stroke-width="1"/>
<line x1="630.26" y1="87.00" x2="638.76" y2="87.00" stroke="#555" stroke-width="1.1"/>
<line x1="630.26" y1="92.00" x2="638.76" y2="92.00" stroke="#555" stroke-width="1.1"/>
<line x1="634.51" y1="122.30" x2="634.51" y2="130.00" stroke="#555" stroke-width="1"/>
<line x1="630.26" y1="122.30" x2="638.76" y2="122.30" stroke="#555" stroke-width="1.1"/>
<line x1="630.26" y1="130.00" x2="638.76" y2="130.00" stroke="#555" stroke-width="1.1"/>
<line x1="634.51" y1="172.50" x2="634.51" y2="178.70" stroke="#555" stroke-width="1"/>
<line x1="630.26" y1="172.50" x2="638.76" y2="172.50" stroke="#555" stroke-width="1.1"/>
<line x1="630.26" y1="178.70" x2="638.76" y2="178.70" stroke="#555" stroke-width="1.1"/>
<line x1="634.51" y1="165.20" x2="634.51" y2="171.40" stroke="#555" stroke-width="1"/>
<line x1="630.26" y1="165.20" x2="638.76" y2="165.20" stroke="#555" stroke-width="1.1"/>
<line x1="630.26" y1="171.40" x2="638.76" y2="171.40" stroke="#555" stroke-width="1.1"/>
<rect x="457.54" y="175.90" width="5.6" height="5.6" fill="#FF0000"/>
<polygon points="460.34,175.80 463.24,178.70 460.34,181.60 457.44,178.70" fill="#8040B0"/>
<circle cx="460.34" cy="196.90" r="3.0" fill="#6F3FF5"/>
<polygon points="460.34,201.50 463.04,204.20 460.34,206.90 457.64,204.20" fill="#3C9A3C"/>
<polygon points="460.34,208.24 463.59,214.12 457.09,214.12" fill="#000"/>
<rect x="501.09" y="157.30" width="5.6" height="5.6" fill="#FF0000"/>
<polygon points="503.89,165.60 506.79,168.50 503.89,171.40 500.99,168.50" fill="#8040B0"/>
<circle cx="503.89" cy="192.90" r="3.0" fill="#6F3FF5"/>
<polygon points="503.89,195.90 506.59,198.60 503.89,201.30 501.19,198.60" fill="#3C9A3C"/>
<polygon points="503.89,207.24 507.14,213.12 500.64,213.12" fill="#000"/>
<rect x="544.63" y="121.70" width="5.6" height="5.6" fill="#FF0000"/>
<polygon points="547.43,155.60 550.33,158.50 547.43,161.40 544.53,158.50" fill="#8040B0"/>
<circle cx="547.43" cy="181.40" r="3.0" fill="#6F3FF5"/>
<polygon points="547.43,174.90 550.13,177.60 547.43,180.30 544.73,177.60" fill="#3C9A3C"/>
<polygon points="547.43,198.44 550.68,204.32 544.18,204.32" fill="#000"/>
<rect x="588.17" y="97.90" width="5.6" height="5.6" fill="#FF0000"/>
<polygon points="590.97,128.60 593.87,131.50 590.97,134.40 588.07,131.50" fill="#8040B0"/>
<circle cx="590.97" cy="164.80" r="3.0" fill="#6F3FF5"/>
<polygon points="590.97,174.60 593.67,177.30 590.97,180.00 588.27,177.30" fill="#3C9A3C"/>
<polygon points="590.97,189.64 594.22,195.52 587.72,195.52" fill="#000"/>
<rect x="631.71" y="86.70" width="5.6" height="5.6" fill="#FF0000"/>
<polygon points="634.51,123.00 637.41,125.90 634.51,128.80 631.61,125.90" fill="#8040B0"/>
<circle cx="634.51" cy="174.90" r="3.0" fill="#6F3FF5"/>
<polygon points="634.51,166.00 637.21,168.70 634.51,171.40 631.81,168.70" fill="#3C9A3C"/>
<rect x="436.30" y="21.30" width="5.4" height="5.4" fill="#FF0000"/>
<text x="445.50" y="29.00" font-size="11" fill="#000" stroke="#000" stroke-width="0.1" text-anchor="start" font-weight="normal" font-family='"Liberation Sans", sans-serif' textLength="77.30" lengthAdjust="spacingAndGlyphs">3 ZZ, 2 mm gap</text>
<polygon points="439.00,41.20 441.85,44.05 439.00,46.90 436.15,44.05" fill="#8040B0"/>
<text x="445.50" y="49.05" font-size="11" fill="#000" stroke="#000" stroke-width="0.1" text-anchor="start" font-weight="normal" font-family='"Liberation Sans", sans-serif' textLength="77.30" lengthAdjust="spacingAndGlyphs">7 ZZ, 2 mm gap</text>
<circle cx="439.00" cy="64.10" r="3.0" fill="#6F3FF5"/>
<text x="445.50" y="69.10" font-size="11" fill="#000" stroke="#000" stroke-width="0.1" text-anchor="start" font-weight="normal" font-family='"Liberation Sans", sans-serif' textLength="82.90" lengthAdjust="spacingAndGlyphs">11 ZZ, 2 mm gap</text>
<polygon points="439.00,81.30 441.85,84.15 439.00,87.00 436.15,84.15" fill="#3C9A3C"/>
<text x="445.50" y="89.15" font-size="11" fill="#000" stroke="#000" stroke-width="0.1" text-anchor="start" font-weight="normal" font-family='"Liberation Sans", sans-serif' textLength="82.90" lengthAdjust="spacingAndGlyphs">13 ZZ, 2 mm gap</text>
<polygon points="439.00,101.24 441.90,106.42 436.10,106.42" fill="#000"/>
<text x="445.50" y="109.20" font-size="11" fill="#000" stroke="#000" stroke-width="0.1" text-anchor="start" font-weight="normal" font-family='"Liberation Sans", sans-serif' textLength="93.40" lengthAdjust="spacingAndGlyphs">17 ZZ, 1.5 mm gap</text>
<text x="653.30" y="64.50" font-size="11" fill="#FF0000" stroke="#FF0000" stroke-width="0.1" text-anchor="start" font-weight="normal" font-family='"Liberation Sans", sans-serif' textLength="45.50" lengthAdjust="spacingAndGlyphs">y = 0.19x</text>
<text x="699.10" y="60.60" font-size="7.2" fill="#FF0000" stroke="#FF0000" stroke-width="0.2" font-weight="normal" font-family='"Liberation Sans", sans-serif'>0.84</text>
<text x="660.00" y="78.10" font-size="11" fill="#FF0000" stroke="#FF0000" stroke-width="0.1" text-anchor="start" font-weight="normal" font-family='"Liberation Sans", sans-serif' textLength="6.90" lengthAdjust="spacingAndGlyphs">R</text>
<text x="667.20" y="74.50" font-size="7.6" fill="#FF0000" stroke="#FF0000" stroke-width="0.1" text-anchor="start" font-weight="normal" font-family='"Liberation Sans", sans-serif'>2</text>
<text x="673.60" y="78.10" font-size="11" fill="#FF0000" stroke="#FF0000" stroke-width="0.1" text-anchor="start" font-weight="normal" font-family='"Liberation Sans", sans-serif' textLength="6.20" lengthAdjust="spacingAndGlyphs">=</text>
<text x="682.80" y="78.10" font-size="11" fill="#FF0000" stroke="#FF0000" stroke-width="0.1" text-anchor="start" font-weight="normal" font-family='"Liberation Sans", sans-serif' textLength="22.20" lengthAdjust="spacingAndGlyphs">0.98</text>
<text x="653.30" y="107.10" font-size="11" fill="#7030A0" stroke="#7030A0" stroke-width="0.1" text-anchor="start" font-weight="normal" font-family='"Liberation Sans", sans-serif' textLength="45.50" lengthAdjust="spacingAndGlyphs">y = 0.19x</text>
<text x="699.10" y="103.20" font-size="7.2" fill="#7030A0" stroke="#7030A0" stroke-width="0.2" font-weight="normal" font-family='"Liberation Sans", sans-serif'>0.56</text>
<text x="660.00" y="120.70" font-size="11" fill="#7030A0" stroke="#7030A0" stroke-width="0.1" text-anchor="start" font-weight="normal" font-family='"Liberation Sans", sans-serif' textLength="6.90" lengthAdjust="spacingAndGlyphs">R</text>
<text x="667.20" y="117.10" font-size="7.6" fill="#7030A0" stroke="#7030A0" stroke-width="0.1" text-anchor="start" font-weight="normal" font-family='"Liberation Sans", sans-serif'>2</text>
<text x="673.60" y="120.70" font-size="11" fill="#7030A0" stroke="#7030A0" stroke-width="0.1" text-anchor="start" font-weight="normal" font-family='"Liberation Sans", sans-serif' textLength="6.20" lengthAdjust="spacingAndGlyphs">=</text>
<text x="682.80" y="120.70" font-size="11" fill="#7030A0" stroke="#7030A0" stroke-width="0.1" text-anchor="start" font-weight="normal" font-family='"Liberation Sans", sans-serif' textLength="22.20" lengthAdjust="spacingAndGlyphs">0.94</text>
<text x="653.30" y="149.20" font-size="11" fill="#FF3399" stroke="#FF3399" stroke-width="0.1" text-anchor="start" font-weight="normal" font-family='"Liberation Sans", sans-serif' textLength="45.50" lengthAdjust="spacingAndGlyphs">y = 0.13x</text>
<text x="699.10" y="145.30" font-size="7.2" fill="#FF3399" stroke="#FF3399" stroke-width="0.2" font-weight="normal" font-family='"Liberation Sans", sans-serif'>0.53</text>
<text x="660.00" y="162.80" font-size="11" fill="#FF3399" stroke="#FF3399" stroke-width="0.1" text-anchor="start" font-weight="normal" font-family='"Liberation Sans", sans-serif' textLength="6.90" lengthAdjust="spacingAndGlyphs">R</text>
<text x="667.20" y="159.20" font-size="7.6" fill="#FF3399" stroke="#FF3399" stroke-width="0.1" text-anchor="start" font-weight="normal" font-family='"Liberation Sans", sans-serif'>2</text>
<text x="673.60" y="162.80" font-size="11" fill="#FF3399" stroke="#FF3399" stroke-width="0.1" text-anchor="start" font-weight="normal" font-family='"Liberation Sans", sans-serif' textLength="6.20" lengthAdjust="spacingAndGlyphs">=</text>
<text x="682.80" y="162.80" font-size="11" fill="#FF3399" stroke="#FF3399" stroke-width="0.1" text-anchor="start" font-weight="normal" font-family='"Liberation Sans", sans-serif' textLength="22.20" lengthAdjust="spacingAndGlyphs">0.85</text>
<text x="652.50" y="191.10" font-size="11" fill="#000" stroke="#000" stroke-width="0.1" text-anchor="start" font-weight="normal" font-family='"Liberation Sans", sans-serif' textLength="46.00" lengthAdjust="spacingAndGlyphs">y = 0.09x</text>
<text x="698.80" y="187.20" font-size="7.2" fill="#000" stroke="#000" stroke-width="0.2" font-weight="normal" font-family='"Liberation Sans", sans-serif'>0.50</text>
<text x="659.50" y="204.70" font-size="11" fill="#000" stroke="#000" stroke-width="0.1" text-anchor="start" font-weight="normal" font-family='"Liberation Sans", sans-serif' textLength="6.90" lengthAdjust="spacingAndGlyphs">R</text>
<text x="666.70" y="201.10" font-size="7.6" fill="#000" stroke="#000" stroke-width="0.1" text-anchor="start" font-weight="normal" font-family='"Liberation Sans", sans-serif'>2</text>
<text x="673.10" y="204.70" font-size="11" fill="#000" stroke="#000" stroke-width="0.1" text-anchor="start" font-weight="normal" font-family='"Liberation Sans", sans-serif' textLength="6.20" lengthAdjust="spacingAndGlyphs">=</text>
<text x="682.30" y="204.70" font-size="11" fill="#000" stroke="#000" stroke-width="0.1" text-anchor="start" font-weight="normal" font-family='"Liberation Sans", sans-serif' textLength="22.20" lengthAdjust="spacingAndGlyphs">0.88</text>
</svg></body></html>
